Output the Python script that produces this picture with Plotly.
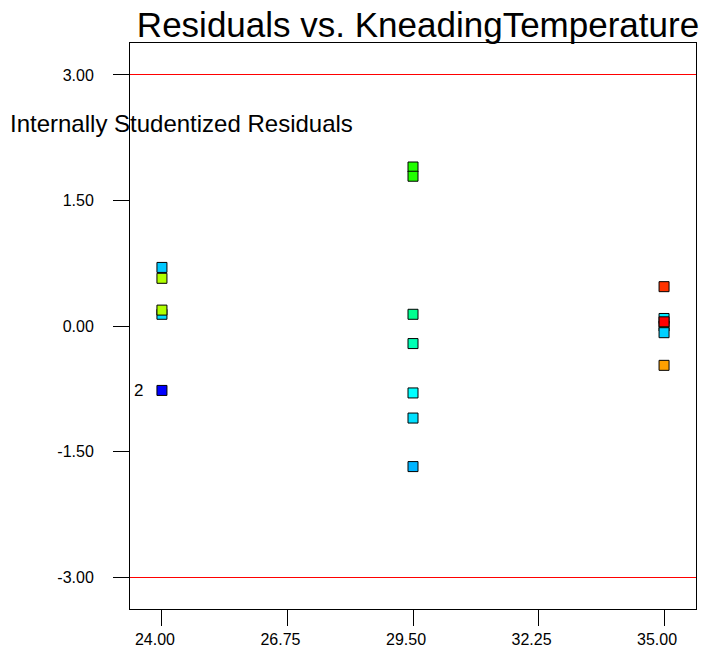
import plotly.graph_objects as go

# design points and residuals
temperature = [24, 24, 24, 24, 24,
               29.5, 29.5, 29.5, 29.5, 29.5, 29.5, 29.5,
               35, 35, 35, 35, 35, 35]
residuals = [0.70, 0.57, 0.14, 0.19, -0.77,
             1.90, 1.79, 0.14, -0.21, -0.80, -1.10, -1.68,
             0.47, 0.09, 0.00, 0.05, -0.08, -0.47]
point_colors = ["#00C8FF", "#B0FF00", "#00DCFF", "#B0FF00", "#0000FF",
                "#22FF00", "#22FF00", "#00FF90", "#00FFB4", "#00FFFF", "#00E0FF", "#00B4FF",
                "#FF3300", "#00E8FF", "#22DD00", "#FF0000", "#00D0FF", "#FFA000"]

x_ticks = [24.00, 26.75, 29.50, 32.25, 35.00]
y_ticks = [-3.00, -1.50, 0.00, 1.50, 3.00]
limits = [3.0, -3.0]

# labelled run
label_run = {"x": 24, "y": -0.77, "text": "2"}

fig = go.Figure()

for lim in limits:
    fig.add_shape(type="line", xref="paper", x0=0, x1=1, yref="y", y0=lim, y1=lim,
                  line=dict(color="#FF0000", width=1))

fig.add_trace(go.Scatter(
    x=temperature, y=residuals, mode="markers",
    marker=dict(symbol="square", size=10, color=point_colors,
                line=dict(color="black", width=1)),
    showlegend=False, hoverinfo="x+y"))

fig.add_annotation(x=label_run["x"], y=label_run["y"], text=label_run["text"],
                   showarrow=False, xanchor="right", yanchor="middle", xshift=-17,
                   font=dict(size=17, color="black"))

# y axis title sits horizontally above the plot area
fig.add_annotation(xref="paper", yref="paper", x=-122 / 566, y=(609 - 123) / 566,
                   text="Internally Studentized Residuals", showarrow=False,
                   xanchor="left", yanchor="middle", font=dict(size=24, color="black"))

axis_style = dict(showline=True, mirror=True, linecolor="black", linewidth=1,
                  ticks="outside", ticklen=16, tickcolor="black", tickwidth=1,
                  showgrid=False, zeroline=False,
                  tickfont=dict(size=16, color="black"))

fig.update_xaxes(range=[23.30, 35.70], tickvals=x_ticks,
                 ticktext=[f"{v:.2f}" for v in x_ticks], ticklabelshift=-7, **axis_style)
fig.update_yaxes(range=[-3.382, 3.382], tickvals=y_ticks,
                 ticktext=[f"{v:.2f}" for v in y_ticks], ticklabelstandoff=16, **axis_style)

fig.update_layout(
    width=704, height=655,
    margin=dict(l=130, r=8, t=43, b=46),
    paper_bgcolor="white", plot_bgcolor="white",
    font=dict(family="Liberation Sans, Arial, sans-serif", color="black"),
    title=dict(text="Residuals vs. KneadingTemperature", x=418 / 704, xanchor="center",
               y=1 - 25 / 655, yanchor="middle", font=dict(size=35, color="black")),
)

fig.write_html(
    "out.html",
    config={"displayModeBar": False},
    post_script=(
        "document.body.style.margin='0';"
        "document.querySelectorAll('.shapelayer path').forEach("
        "function(p){p.style.shapeRendering='crispEdges';});"
    ),
)
